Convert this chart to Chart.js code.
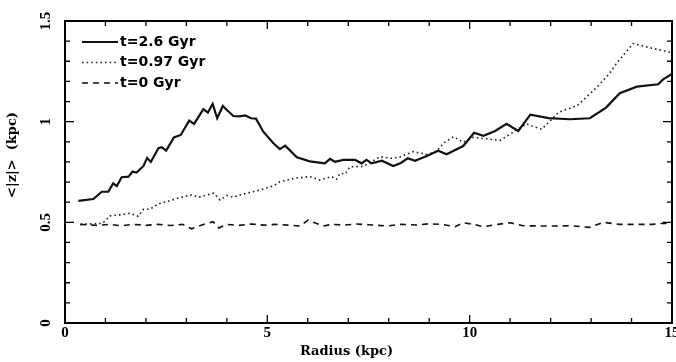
<!DOCTYPE html>
<html>
<head>
<meta charset="utf-8">
<script src="https://cdn.jsdelivr.net/npm/chart.js@4.4.1/dist/chart.umd.min.js"></script>
<style>
  html, body { margin: 0; padding: 0; background: #fff; }
  #wrap { width: 676px; height: 362px; }
</style>
</head>
<body>
<div id="wrap"><canvas id="zChart" width="676" height="362"></canvas></div>
<script>
// t = 2.6 Gyr (solid)
var r26 = [0.33,0.70,0.91,1.07,1.19,1.28,1.40,1.57,1.67,1.77,1.94,2.03,2.12,2.31,2.39,2.50,2.69,2.86,3.07,3.19,3.42,3.53,3.65,3.76,3.90,4.00,4.16,4.32,4.45,4.60,4.72,4.90,5.15,5.31,5.44,5.73,6.05,6.42,6.55,6.67,6.88,7.17,7.33,7.45,7.58,7.83,8.11,8.30,8.47,8.65,8.94,9.22,9.43,9.84,10.11,10.34,10.63,10.91,11.20,11.50,11.95,12.48,12.97,13.37,13.71,14.13,14.66,14.78,15.0];
var z26 = [0.607,0.616,0.652,0.652,0.694,0.680,0.724,0.727,0.752,0.747,0.780,0.820,0.800,0.868,0.873,0.856,0.922,0.934,1.005,0.989,1.062,1.045,1.088,1.017,1.078,1.058,1.028,1.026,1.031,1.017,1.015,0.950,0.893,0.864,0.881,0.823,0.803,0.793,0.815,0.801,0.810,0.810,0.793,0.810,0.793,0.806,0.780,0.795,0.818,0.806,0.830,0.856,0.838,0.879,0.945,0.930,0.954,0.989,0.954,1.035,1.018,1.012,1.017,1.070,1.141,1.174,1.186,1.210,1.237];

// t = 0.97 Gyr (dotted)
var r097 = [0.39,0.93,1.11,1.34,1.61,1.81,1.94,2.10,2.29,2.51,2.88,3.13,3.31,3.50,3.68,3.83,4.00,4.16,4.32,4.49,4.82,5.15,5.31,5.68,6.05,6.30,6.59,6.71,6.80,6.92,7.04,7.37,7.54,7.78,8.05,8.28,8.61,8.94,9.18,9.35,9.60,9.84,10.09,10.75,11.16,11.41,11.53,11.78,12.20,12.66,13.14,13.47,13.63,14.04,14.40,15.0];
var z097 = [0.490,0.495,0.532,0.537,0.545,0.530,0.565,0.565,0.590,0.603,0.625,0.636,0.625,0.636,0.645,0.611,0.633,0.624,0.636,0.644,0.661,0.681,0.702,0.719,0.727,0.710,0.727,0.714,0.744,0.740,0.776,0.778,0.796,0.826,0.818,0.825,0.851,0.837,0.851,0.893,0.925,0.898,0.922,0.907,0.958,0.989,0.979,0.962,1.047,1.080,1.170,1.243,1.290,1.388,1.370,1.342];

// t = 0 Gyr (dashed)
var r0 = [0.37,0.8,1.1,1.4,1.7,2.0,2.3,2.6,2.9,3.13,3.4,3.66,3.8,4.0,4.3,4.6,4.9,5.2,5.5,5.81,6.01,6.2,6.38,6.6,6.9,7.2,7.5,7.95,8.3,8.7,9.0,9.3,9.64,9.84,10.1,10.34,10.7,11.0,11.32,11.7,12.1,12.5,12.97,13.3,13.7,14.1,14.5,14.78,15.0];
var z0 = [0.490,0.485,0.490,0.483,0.490,0.485,0.490,0.484,0.490,0.468,0.488,0.503,0.472,0.490,0.485,0.492,0.486,0.490,0.486,0.482,0.512,0.495,0.482,0.490,0.486,0.492,0.488,0.482,0.490,0.487,0.493,0.490,0.478,0.498,0.490,0.478,0.490,0.498,0.483,0.482,0.482,0.483,0.475,0.500,0.490,0.490,0.490,0.495,0.495];

var seriesNames = ['t=2.6 Gyr', 't=0.97 Gyr', 't=0 Gyr'];
var xTicks = [0, 5, 10, 15];
var yTicks = [0, 0.5, 1, 1.5];
var xTitle = 'Radius (kpc)';
var yTitle = '<|z|>  (kpc)';

function pairs(xs, ys) {
  var out = [];
  for (var i = 0; i < xs.length; i++) out.push({x: xs[i], y: ys[i]});
  return out;
}

// frame, inward ticks, rotated y labels, axis titles and legend
var decor = {
  id: 'decor',
  afterDatasetsDraw: function (chart) {
    var ctx = chart.ctx, a = chart.chartArea;
    var xs = chart.scales.x, ys = chart.scales.y;
    ctx.save();
    ctx.strokeStyle = '#000';
    ctx.lineWidth = 2;
    ctx.strokeRect(a.left, a.top, a.right - a.left, a.bottom - a.top);

    ctx.lineWidth = 1.3;
    ctx.beginPath();
    for (var i = 0; i <= 15; i++) {
      var px = xs.getPixelForValue(i);
      var len = (i % 5) ? 5 : 8;
      ctx.moveTo(px, a.bottom); ctx.lineTo(px, a.bottom - len);
      ctx.moveTo(px, a.top); ctx.lineTo(px, a.top + len);
    }
    for (var j = 0; j <= 15; j++) {
      var py = ys.getPixelForValue(j / 10);
      var l2 = (j % 5) ? 5 : 9;
      ctx.moveTo(a.left, py); ctx.lineTo(a.left + l2, py);
      ctx.moveTo(a.right, py); ctx.lineTo(a.right - l2, py);
    }
    ctx.stroke();

    ctx.fillStyle = '#000';
    ctx.font = 'bold 15px "Liberation Serif"';
    ctx.textAlign = 'center';
    ctx.textBaseline = 'middle';
    yTicks.forEach(function (v) {
      ctx.save();
      ctx.translate(46, ys.getPixelForValue(v));
      ctx.rotate(-Math.PI / 2);
      ctx.fillText(String(v), 0, 0);
      ctx.restore();
    });

    ctx.font = 'bold 13px "DejaVu Serif"';
    ctx.fillText(xTitle, (a.left + a.right) / 2 - 22, 352);
    ctx.save();
    ctx.translate(13, 155);
    ctx.rotate(-Math.PI / 2);
    ctx.fillText(yTitle, 0, 0);
    ctx.restore();

    ctx.font = 'bold 14px "DejaVu Sans"';
    ctx.textAlign = 'left';
    chart.data.datasets.forEach(function (ds, k) {
      var ly = a.top + 21 + k * 20.5;
      ctx.save();
      ctx.strokeStyle = ds.borderColor;
      ctx.lineWidth = ds.borderWidth;
      ctx.setLineDash(ds.borderDash || []);
      ctx.beginPath();
      ctx.moveTo(a.left + 17, ly);
      ctx.lineTo(a.left + 53, ly);
      ctx.stroke();
      ctx.restore();
      ctx.fillText(ds.label, a.left + 55, ly);
    });
    ctx.restore();
  }
};

new Chart(document.getElementById('zChart'), {
  type: 'line',
  data: {
    datasets: [{
      label: seriesNames[0],
      data: pairs(r26, z26),
      borderColor: '#111',
      borderWidth: 2.2,
      pointRadius: 0,
      tension: 0,
      fill: false
    }, {
      label: seriesNames[1],
      data: pairs(r097, z097),
      borderColor: '#222',
      borderWidth: 1.6,
      borderDash: [1.6, 3],
      pointRadius: 0,
      tension: 0,
      fill: false
    }, {
      label: seriesNames[2],
      data: pairs(r0, z0),
      borderColor: '#111',
      borderWidth: 1.6,
      borderDash: [6, 5],
      pointRadius: 0,
      tension: 0,
      fill: false
    }]
  },
  options: {
    responsive: false,
    animation: false,
    layout: { padding: { top: 21, right: 4, left: 0, bottom: 0 } },
    plugins: { legend: { display: false }, tooltip: { enabled: false } },
    scales: {
      x: {
        type: 'linear',
        min: 0, max: 15,
        afterBuildTicks: function (s) { s.ticks = xTicks.map(function (v) { return {value: v}; }); },
        afterFit: function (s) { s.height = 39; s.paddingLeft = 0; s.paddingRight = 0; },
        grid: { display: false, drawTicks: false },
        border: { display: false },
        ticks: { color: '#000', padding: 1, maxRotation: 0, font: { family: 'Liberation Serif', size: 15, weight: 'bold' } }
      },
      y: {
        type: 'linear',
        min: 0, max: 1.5,
        afterFit: function (s) { s.width = 65; },
        grid: { display: false, drawTicks: false },
        border: { display: false },
        ticks: { display: false }
      }
    }
  },
  plugins: [decor]
});
</script>
</body>
</html>
